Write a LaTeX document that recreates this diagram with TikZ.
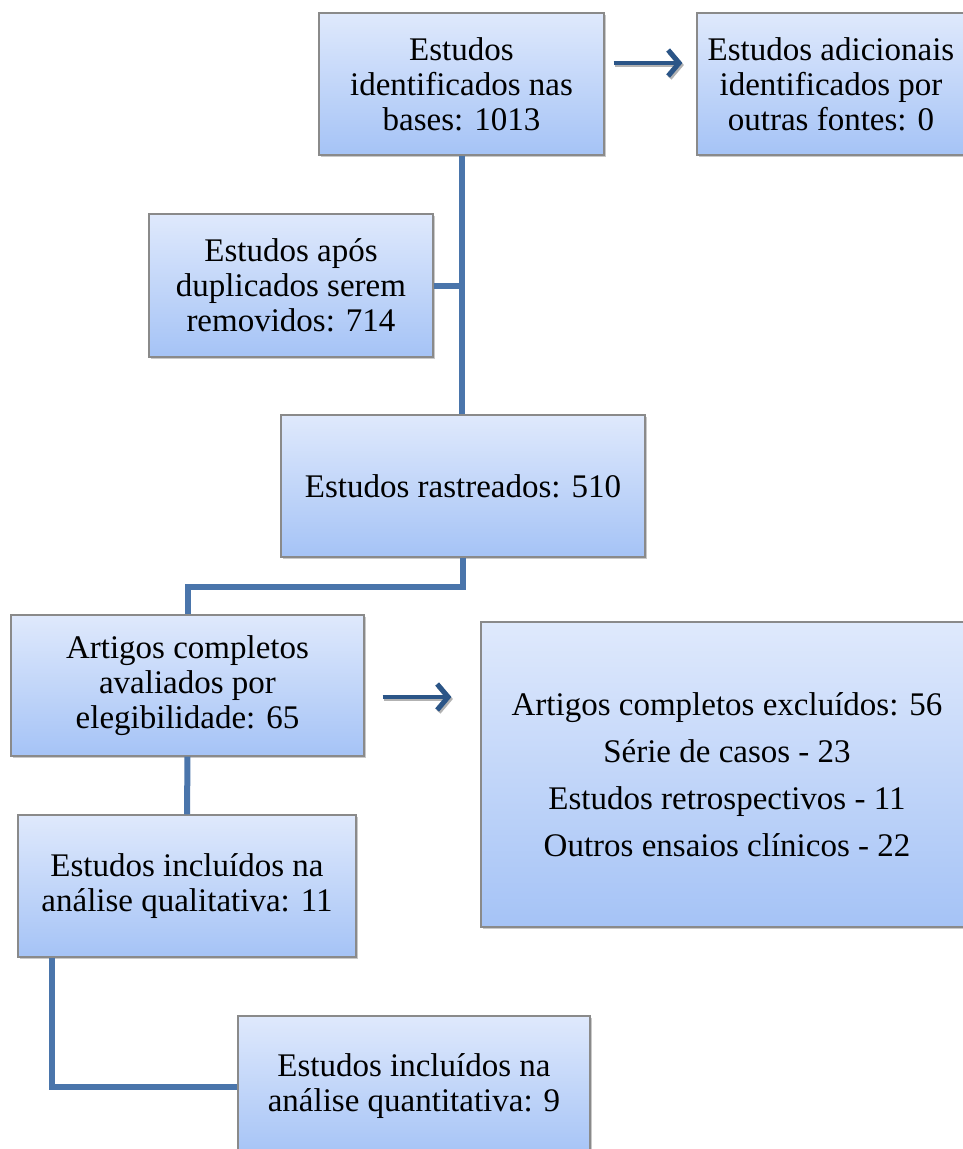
\documentclass[tikz,border=0pt]{standalone}
\usepackage{fontspec}
\setmainfont{Liberation Serif}
\usetikzlibrary{arrows.meta,shadows}
\definecolor{boxtop}{HTML}{DFE9FC}
\definecolor{boxbot}{HTML}{A5C3F6}
\definecolor{boxline}{HTML}{8A8A8A}
\definecolor{conn}{HTML}{4A75AB}
\definecolor{arrc}{HTML}{2B5587}
\tikzset{
  flowbox/.style={draw=boxline, line width=1.2pt, top color=boxtop, bottom color=boxbot,
    align=center, inner sep=0pt, font=\fontsize{33}{35}\selectfont,
    drop shadow={shadow xshift=1.5pt, shadow yshift=-1.5pt, opacity=0.35, fill=black!60}},
  link/.style={draw=conn, line width=6pt},
  bigarrow/.style={draw=arrc, line width=4.5pt, -{Straight Barb[length=11pt,width=26pt,line width=5pt]}},
  arrshadow/.style={draw=black!30, line width=4.5pt, -{Straight Barb[length=11pt,width=26pt,line width=5pt]}}
}
\begin{document}
\begin{tikzpicture}[x=1pt,y=-1pt]
\useasboundingbox (0,0) rectangle (963,1149);
\clip (0,0) rectangle (963,1149);
\fill[white] (0,0) rectangle (963,1149);

\node[flowbox, minimum width=285pt, minimum height=142pt] (B1) at (461.5,84)
  {Estudos\\identificados nas\\bases: 1013};
\node[flowbox, minimum width=268pt, minimum height=142pt] (B2) at (831,84)
  {Estudos adicionais\\identificados por\\outras fontes: 0};
\node[flowbox, minimum width=284pt, minimum height=143pt] (B3) at (291,285.5)
  {Estudos após\\duplicados serem\\removidos: 714};
\node[flowbox, minimum width=364pt, minimum height=142pt] (B4) at (463,486)
  {Estudos rastreados: 510};
\node[flowbox, minimum width=353pt, minimum height=141pt] (B5) at (187.5,685.5)
  {Artigos completos\\avaliados por\\elegibilidade: 65};
\node[flowbox, minimum width=492pt, minimum height=305pt, font=\fontsize{33}{47}\selectfont] (B6) at (727,774.5)
  {Artigos completos excluídos: 56\\Série de casos - 23\\Estudos retrospectivos - 11\\Outros ensaios clínicos - 22};
\node[flowbox, minimum width=338pt, minimum height=142pt] (B7) at (187,886)
  {Estudos incluídos na\\análise qualitativa: 11};
\node[flowbox, minimum width=352pt, minimum height=141pt] (B8) at (414,1086.5)
  {Estudos incluídos na\\análise quantitativa: 9};

\draw[link] (B1.south) -- (B1.south |- B4.north);
\draw[link] (B3.east) -- (B1.south |- B3.east);
\draw[link] (B4.south) -- ++(0,29) -| (B5.north);
\draw[link] (B5.south) -- (B7.north);
\draw[link] ([xshift=35pt]B7.south west) |- (B8.west);

% arrow B1 -> B2
\coordinate (a1s) at ([xshift=9pt,yshift=21pt]B1.east);
\coordinate (a1e) at ([xshift=-14pt,yshift=21pt]B2.west);
\draw[arrshadow] ([xshift=1.5pt,yshift=-2pt]a1s) -- ([xshift=1.5pt,yshift=-2pt]a1e);
\draw[bigarrow] (a1s) -- (a1e);
% arrow B5 -> B6
\coordinate (a2s) at ([xshift=18pt,yshift=-11.5pt]B5.east);
\coordinate (a2x) at ([xshift=-29pt]B6.west);
\coordinate (a2e) at (a2x |- a2s);
\draw[arrshadow] ([xshift=1.5pt,yshift=-2pt]a2s) -- ([xshift=1.5pt,yshift=-2pt]a2e);
\draw[bigarrow] (a2s) -- (a2e);
\end{tikzpicture}
\end{document}
